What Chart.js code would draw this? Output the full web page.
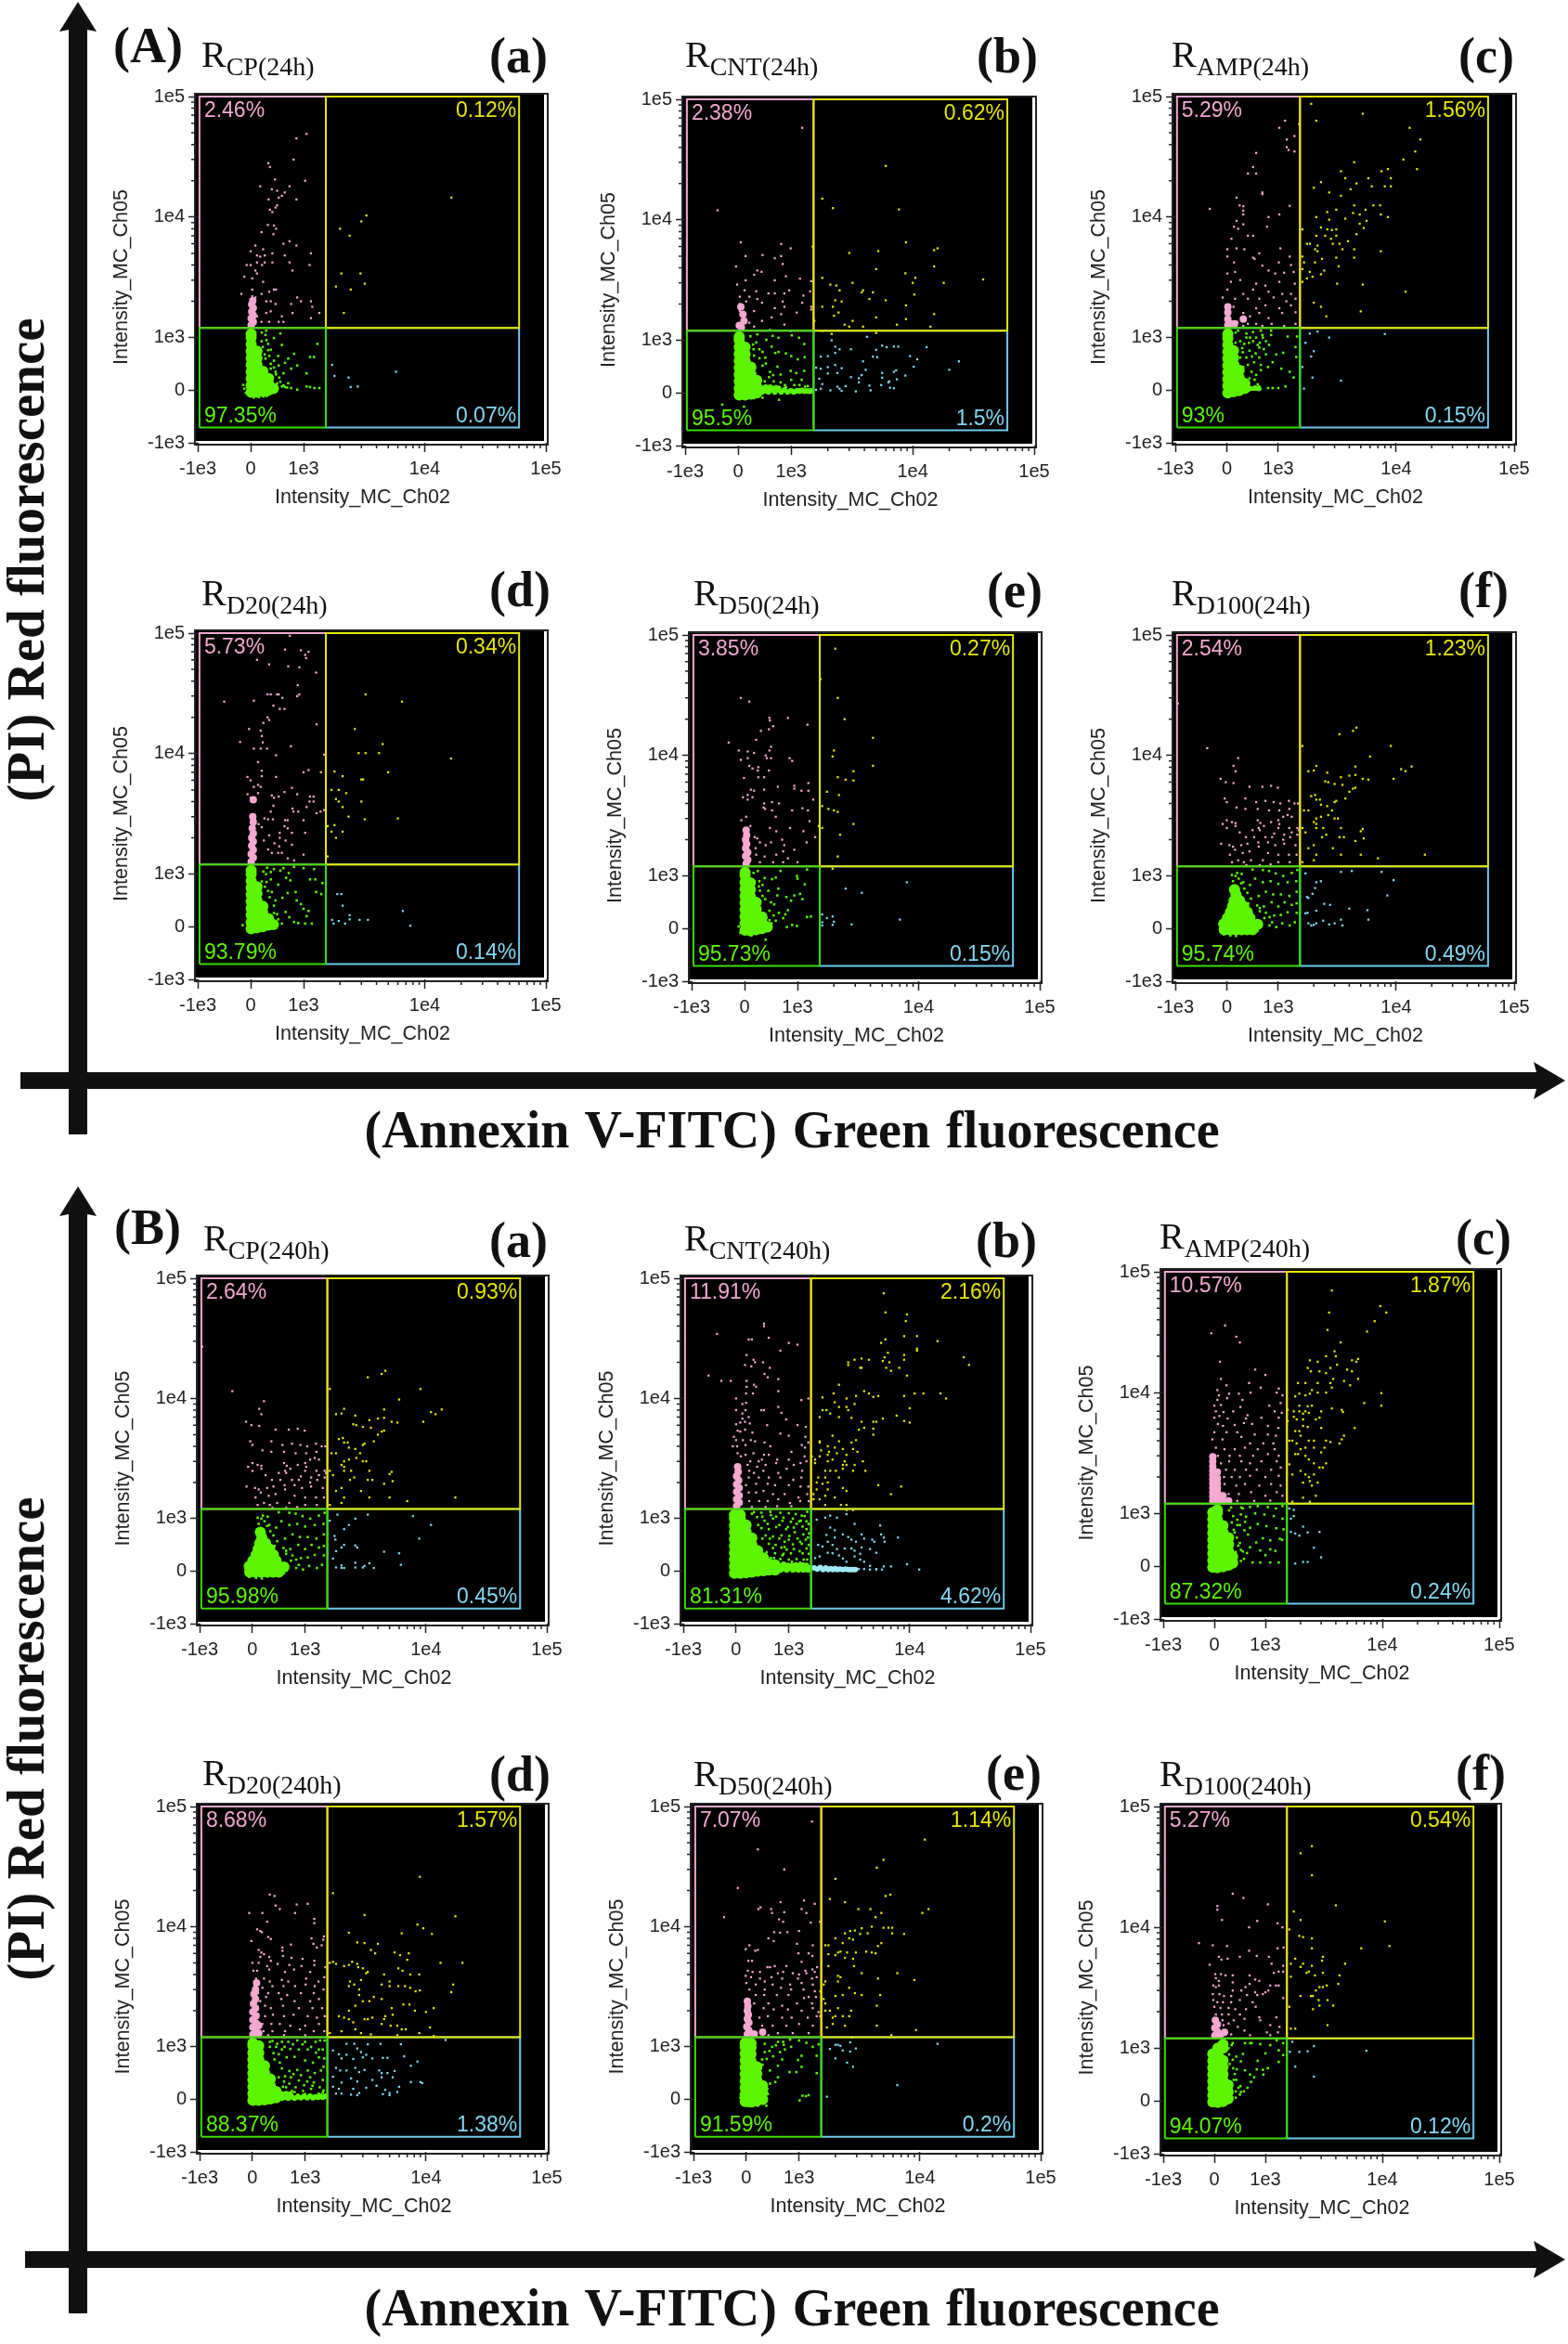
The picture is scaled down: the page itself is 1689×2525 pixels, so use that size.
<!DOCTYPE html>
<html lang="en">
<head>
<meta charset="UTF-8">
<title>Annexin V-FITC / PI flow cytometry panels</title>
<script src="https://cdn.jsdelivr.net/npm/chart.js"></script>
<style>
  html, body { margin: 0; padding: 0; background: #fff; }
  #page { position: relative; width: 1689px; height: 2525px; overflow: hidden; }
  canvas { position: absolute; }
  svg { position: absolute; left: 0; top: 0; pointer-events: none; }
</style>
</head>
<body>
<div id="page"></div>
<script>
// tick labels and gate limits, in intensity units
const tickValues = [-1000, 0, 1000, 10000, 100000];
const tickLabels = ['-1e3', '0', '1e3', '1e4', '1e5'];
const minorValues = [2e3, 3e3, 4e3, 5e3, 6e3, 7e3, 8e3, 9e3, 2e4, 3e4, 4e4, 5e4, 6e4, 7e4, 8e4, 9e4];
const gateX = [-967, 1527, 60100];
const gateY = [-711, 1203, 100000];

// events, x,y pairs. "Core" and "Band" arrays are clump centres
// for the solid clouds, they are drawn with a bigger marker
const cp24Pink = [1060,49000,865,45000,810,30000,335,28000,365,26000,460,20500,1030,20000,180,18000,735,18000,400,17000,500,16500,645,16000,590,15000,530,14500,340,14000,865,14000,500,12500,470,12000,365,11500,410,11000,325,8600,440,8500,480,8000,205,7500,430,7200,735,6300,620,6000,865,5800,90,5800,0,5200,235,5400,265,4800,410,5000,645,4800,1150,5000,120,4800,180,4700,120,4200,265,4200,410,4200,735,4200,1120,4000,-75,4000,0,4000,215,4000,790,3600,90,3600,120,3400,30,3100,-120,3200,235,2900,30,2500,480,2500,440,2500,350,2400,205,2300,-175,2300,30,2200,90,2150,880,2150,950,2000,1150,2000,1180,1800,295,2000,380,2000,470,1900,765,1900,0,1800,60,1700,380,1650,295,1600,790,1600,1350,1600,590,1500,1150,1450,120,1500,205,1350,350,1350,530,1350,620,1350];
const cp24PinkCore = [10,1270,50,1350,10,1440,50,1530,20,1640,50,1760,20,1880,40,2020];
const cp24Yellow = [16600,14500,3300,10300,3000,9200,2000,8000,2400,7000,2050,3400,2950,3400,3200,2800,1850,2650,2450,2500,2150,1600];
const cp24Blue = [1720,480,5800,350,1800,270,2350,240,2450,60,2800,70];
const cp24Green = [1300,880,1130,630,1220,630,820,690,710,600,650,520,880,470,765,410,1060,320,590,860,560,1080,440,990,295,1140,205,930,380,770,265,680,530,470,470,350,380,410,620,320,710,130,880,10,1060,70,1230,40,1350,40,590,70,500,130,295,-110,90,-110,-90,-50,765,40,1130,60,650,60,440,560,330,880,280,1050,520,650,210,1100,300,950,230,820,330,760,280,600,350,650,380,500,440,430,480,300,540,240,560,160,620,90,690,50,240,-120,160,-130,60,-140,-120,30,-140,100,320,-100];
const cp24Core = [10,-40,10,90,10,220,10,350,10,480,10,610,10,740,10,870,10,1000,10,1070,120,-40,120,90,120,220,120,350,120,480,120,610,120,740,230,-20,230,100,230,230,230,360,340,0,340,110,340,220,430,30];
const cp24Band = [];

const cnt24Pink = [1230,58000,-390,12000,50,6500,810,6300,990,5800,460,5100,140,5000,690,4800,810,5000,840,4300,-40,4100,360,3800,440,3700,300,3500,900,3400,1180,3250,1460,3100,690,3150,140,3150,-20,2900,120,2600,1430,2550,340,2550,570,2450,690,2450,870,2450,960,2600,30,2300,210,2300,360,2200,1260,2350,1230,2050,840,2100,30,2000,150,2100,450,2050,870,1900,690,1850,1460,1900,1110,1700,1460,1800,30,1750,120,1650,300,1750,810,1650,630,1550,90,1450,210,1400,450,1450,870,1350,300,1300,990,1200,30,1300,600,1220];
const cnt24PinkCore = [50,1900,90,1650,110,1450,60,1280,20,1330];
const cnt24Yellow = [6000,28000,1800,15000,2200,12500,7700,12200,1500,6000,8800,6500,15000,5600,16000,5800,3000,5300,5200,5500,5000,3900,8700,3600,10500,3300,15000,4100,38000,3200,1800,3300,10000,3000,18000,3000,2350,2850,2100,2900,2500,2600,3200,3000,3900,2600,3800,2500,4700,2500,10300,2400,4400,2200,6000,2150,2300,2150,2600,2100,8800,1950,1800,1900,2200,1900,2450,1700,2250,1600,5000,1550,8800,1500,15000,1650,1550,1450,3200,1450,2750,1350,3000,1300,3900,1300,14000,1300,7400,1350,1800,1200,5000,1150,2150,1130];
const cnt24Blue = [2150,1000,2300,880,2500,830,3100,830,4200,1070,5600,900,6100,870,7000,880,7600,880,5000,820,5100,680,4700,690,3900,600,2300,760,2000,700,1750,690,9500,700,10900,640,13000,870,24000,600,20000,440,10200,500,8700,330,7400,260,6400,220,5600,380,5600,290,7000,400,7300,430,4100,440,3800,340,3600,280,2600,470,2300,530,2000,490,1750,460,1600,480,1700,270,1800,170,2100,50,1750,80,1600,60,2500,80,2600,40,3400,30,3600,200,4400,140,4500,50,5500,150,6300,200,6500,100,7000,90,2400,120,2000,370,2400,380,3100,300,2800,130];
const cnt24Green = [-300,-220,110,-260,300,-100,770,-130,460,-90,1280,930,1160,1050,1010,1100,1000,700,1130,640,1290,680,900,750,760,1050,760,780,650,1090,630,880,530,1010,510,670,400,830,360,1120,280,920,740,500,800,350,1000,250,1100,380,1280,420,1220,250,1370,130,1430,60,1170,70,1020,60,880,150,600,400,500,220,460,520,300,710,260,530,670,220,570,80,700,760,990,420,230,1080,290,830,340,960,400,660,460,780,520,560,580,300,660,340,720,130,800,200,900,110,1060,150,1170,150,1300,120];
const cnt24Core = [20,-40,20,90,20,220,20,350,20,480,20,610,20,740,20,870,20,1000,20,1070,130,-40,130,90,130,220,130,350,130,480,130,610,130,740,130,870,240,-20,240,100,240,230,240,360,240,490,350,0,350,110,350,240];
const cnt24Band = [450,20,510,40,570,20,630,60,690,20,750,60,810,20,870,60,930,20,990,40,1050,20,1110,40,1170,30,1230,50,1290,30,1350,40,1410,30,1470,40,460,90,520,110,600,110,680,90,760,90];

const amp24Pink = [-330,11700,1140,63000,1020,55000,1500,59000,1180,44000,1370,47000,1180,38000,1220,36000,1370,35000,570,34000,510,26000,410,23000,570,23000,690,16000,690,15500,190,14500,250,12500,320,12300,320,11300,320,10500,1250,12400,810,10000,1020,10500,190,9300,320,8700,140,8300,220,8000,780,8300,410,7000,510,7000,90,6600,1040,5500,10,5400,190,5500,340,5400,10,4700,630,5000,510,4600,690,3950,1250,4700,1010,4200,1280,4000,140,4200,540,4500,810,3600,940,3400,1120,3450,1350,3500,160,3500,10,3400,80,2900,260,3000,1020,2900,570,2800,750,2700,1380,2800,10,2500,320,2300,510,2500,810,2400,1080,2300,1280,2300,-80,2150,160,2100,410,2100,630,2100,910,2150,1170,2000,1400,2100,130,1800,570,1750,750,1850,1020,1750,1280,1850,320,1600,450,1500,630,1600,810,1450,1080,1600,1400,1620,200,1350,410,1300,570,1300,870,1300,1120,1250,1400,1300,320,1250,690,1250];
const amp24PinkCore = [20,1270,20,1420,20,1620,20,1800,70,1300,150,1300,320,1420];
const amp24Yellow = [1900,87000,5200,72000,2100,63000,13000,55000,16000,44000,14500,35000,11500,30000,4400,28500,15000,25000,8500,25000,7500,24000,3400,24000,9000,21000,5800,21000,3700,21000,2300,19500,4600,19000,6200,18000,8000,18000,9000,18000,4100,17000,2000,17500,2700,16000,3400,15000,4400,12500,7300,12500,6400,12500,5500,11500,4300,10800,7400,10500,8500,10000,3100,11500,2600,11000,2100,10000,2700,9500,3700,9700,4900,10500,5600,9300,4900,8800,5300,8100,2300,8200,2850,7800,3100,7900,2600,7900,1600,7900,2500,7000,3100,7000,2100,7000,4600,7200,2800,6600,3300,6000,3900,6300,2900,6000,2150,5800,1750,6000,1850,6000,2050,5400,3500,5400,4400,5400,7400,5200,2150,5200,1600,4700,3100,4600,4400,4600,2350,4500,2050,4200,1650,4200,3250,3900,2450,3600,1850,3500,1600,3700,2300,3350,1950,3200,1750,3100,3150,2800,5200,2750,1600,2900,12000,2400,2000,1950,2300,1800,5000,1650,2550,1500];
const amp24Blue = [1850,1080,8000,1070,2700,1000,2150,1120,1700,900,2000,740,1900,640,1600,440,1950,240,3400,180,1650,30];
const amp24Green = [1400,820,1200,1020,1440,1020,1420,630,1100,710,960,680,1060,410,1250,350,1350,240,1150,70,1000,40,890,40,800,40,630,70,510,10,890,530,800,440,660,380,570,290,860,1050,760,930,630,810,510,930,440,750,530,530,380,620,320,440,260,930,380,1080,660,1140,860,1140,160,710,220,500,440,225,350,165,690,1050,510,1110,220,1140,630,620,760,680,560,700,430,900,700,1000,300,800,570,1000,260,620,310,720,340,880,450,1000,490,640,410,480,480,350,540,200,600,110,660,480,720,780,640,900,820,860,600,860,380,1000,170,1100,170,900];
const amp24Core = [20,-50,20,80,20,210,20,340,20,470,20,600,20,730,20,860,20,990,20,1070,130,-30,130,100,130,230,130,360,130,490,130,620,130,750,240,-10,240,110,240,240,240,380,350,30,350,130];
const amp24Band = [450,30,550,40,620,30];

const d2024Pink = [740,95000,650,73000,950,72000,1100,70000,1030,66000,1050,62000,120,60000,350,55000,710,53000,920,52000,1270,47000,890,37000,320,31000,380,31000,500,31000,530,31000,600,29000,920,31000,880,30000,-500,27000,60,27500,430,25000,550,23500,640,23500,320,20000,350,19000,240,18000,1280,17500,-30,16000,190,15500,210,14000,-200,12500,230,12400,60,11000,190,11000,310,11000,760,11500,480,9700,1480,9800,140,8500,1100,7300,1000,7000,1390,7000,210,7200,210,6500,480,6400,-60,6400,0,6000,60,5300,140,5500,190,5300,780,5200,640,4800,880,4600,-60,4600,0,4300,140,4700,400,4500,440,4300,530,4400,1130,4400,1210,4400,1210,4000,1120,4000,1060,3600,790,3500,810,3300,900,3300,1280,3200,1380,3300,1480,3400,430,3700,380,3300,260,2900,330,2850,420,2850,650,2800,700,2800,1000,2800,150,2600,210,2450,640,2500,700,2400,780,2200,1030,2200,550,2200,350,2100,250,1900,550,2000,450,1800,540,1700,660,1900,780,1750,330,1600,400,1500,520,1500,590,1500,700,1350,1000,1450,820,1300];
const d2024PinkCore = [10,1270,50,1370,10,1470,50,1590,20,1720,50,1860,20,2000,50,2180,30,2400,50,2700,40,3000,50,4150];
const d2024Yellow = [3250,31000,6500,27000,2650,16000,4500,12000,2850,10100,3250,10100,4200,10100,16500,9100,1800,7100,2100,6500,5000,7000,3000,6100,3100,6100,1700,5000,1950,5000,2250,4700,1850,4200,1950,4000,3000,4000,2100,3600,6000,2900,2350,3000,3200,2850,1580,2500,1800,2550,2100,2250,1850,2000,1700,2250,1580,1400];
const d2024Blue = [1900,620,2050,620,2100,400,2400,220,1720,130,1950,110,1770,60,2200,60,2400,140,2900,130,3400,130,6600,300,7600,20];
const d2024Green = [1430,830,1250,900,1400,620,1270,660,1130,900,1220,1100,1000,1120,820,1150,620,1120,380,900,290,1000,440,1100,560,1070,720,1020,750,880,670,930,520,800,400,660,600,550,700,640,850,660,870,500,950,430,1000,340,1100,300,1060,200,1170,60,1030,60,900,70,820,90,730,180,660,280,500,240,440,400,-150,30,210,860,270,760,330,680,240,1050,310,1130,360,560,440,260,520,140,590,60,470,500,300,850,380,1040];
const d2024Core = [10,-40,10,90,10,220,10,350,10,480,10,610,10,740,10,870,10,1000,10,1070,120,-20,120,110,120,240,120,370,120,500,120,630,120,760,230,0,230,130,230,260,230,390,340,30,340,150,430,40];
const d2024Band = [];

const d5024Pink = [-70,30000,90,28000,470,20500,480,19500,540,17500,460,16500,820,20500,1210,18000,310,16000,-300,12800,220,13500,500,11800,470,11000,-110,11000,60,10800,180,10500,400,10000,420,9500,500,9500,-70,9200,60,9500,850,9500,900,9000,90,8200,150,7800,260,8000,250,7500,460,7500,-10,6500,260,6600,370,6600,1230,5900,630,5500,940,5600,940,5300,1080,5100,1230,5100,120,5200,180,5100,370,5200,60,4700,1350,4300,-30,4500,60,4300,150,4500,370,4000,520,4100,650,4000,360,3700,390,3600,520,3500,900,3500,1100,3650,1220,3500,30,3100,590,3100,1260,2850,-60,2900,110,2600,480,2500,860,2500,1120,2350,600,2350,1400,2100,190,2100,240,2050,290,1900,500,1900,710,2000,750,1800,1190,1900,210,1700,400,1800,730,1600,940,1650,220,1500,380,1450,600,1500,820,1400,1000,1300,290,1300,540,1300,730,1300];
const d5024PinkCore = [30,1260,60,1360,20,1460,60,1570,20,1700,40,1840,20,2000,40,2180,30,2400];
const d5024Yellow = [2050,77000,1550,43000,2150,30000,2450,20000,4200,14000,2000,11000,1950,9800,4200,8200,2900,7400,2150,6600,2500,6300,2900,6200,1750,5000,2200,4700,1600,3800,1800,3600,2000,3500,2150,3400,2900,2700,1500,2600,1600,2500,2250,2200,2150,1450,1950,1150];
const d5024Blue = [2500,760,3400,680,8000,880,1600,270,1750,200,1600,120,1950,230,2000,130,1950,70,1600,60,2800,80,7000,170];
const d5024Green = [1200,1130,1150,840,1000,950,990,1000,1050,660,1100,560,880,530,940,630,820,350,770,270,1200,220,1290,230,990,50,900,70,800,30,730,200,650,300,790,600,640,760,590,970,520,940,680,1100,620,630,560,460,500,500,410,200,510,100,470,160,390,270,340,620,380,960,270,800,250,1100,170,1060,190,900,400,-210,130,-130,290,720,340,830,280,900,390,560,450,720,470,340,550,250,590,150,-110,40,-80,-80,100,-120,200,-100,300,-80];
const d5024Core = [10,-30,10,100,10,230,10,360,10,490,10,620,10,750,10,880,10,1010,10,1070,110,-40,110,90,110,220,110,350,110,480,110,610,110,740,110,870,220,-20,220,110,220,240,220,370,220,500,330,0,330,110,330,220,430,30];
const d5024Band = [];

const d10024Pink = [-950,27000,-380,11500,220,9500,130,8200,170,7400,-120,6400,-20,6000,130,5900,440,5500,690,5500,860,5600,990,5400,-40,4400,0,4100,360,4400,570,4100,750,4200,910,4100,1040,4000,1230,4200,1370,4000,1470,4000,190,3700,360,3600,600,3600,820,3500,1020,3500,1240,3600,1200,3200,1300,3100,1100,3100,600,2900,650,2750,1000,2900,860,2800,0,2900,-80,2700,100,2800,170,2750,1020,2700,0,2500,170,2600,620,2500,720,2600,1000,2500,1240,2500,1450,2500,250,2300,500,2400,640,2400,920,2250,1120,2200,1300,2300,1490,2400,1450,2200,370,2100,530,2100,750,2100,880,2100,1100,2000,1260,2100,-110,1850,50,1800,120,1750,280,1800,400,1850,610,1900,800,1900,940,1800,1120,1850,1400,1800,60,1500,160,1650,310,1550,440,1600,620,1750,800,1550,1000,1500,1230,1500,1430,1500,100,1300,220,1350,330,1300,470,1350,700,1350,850,1250,1000,1300,1250,1300,380,1230,640,1230];
const d10024PinkCore = [];
const d10024Yellow = [1600,12000,4300,16000,3300,15000,4600,17000,9000,12000,6000,9800,4500,8100,2100,8200,1800,7400,2000,7500,2600,7200,3400,6600,2500,6100,2650,6000,3000,5800,3500,5700,4000,6800,4500,6900,5200,6400,5800,6300,9500,6400,11000,7700,12000,7400,13500,8100,4300,5300,4500,5400,4000,5000,3700,4400,3000,4100,3100,4200,2600,3800,1900,4600,2050,4700,2100,4300,2250,4300,2300,3900,1650,3500,1800,3500,2100,3000,2000,2800,2100,2700,2300,3100,2650,3200,2850,3500,3000,3000,3200,3000,3400,2500,2400,2500,2100,2500,1600,2500,1700,2300,2550,2200,2350,2100,3300,2100,3600,2100,5200,2450,5000,2350,4500,1950,5300,2050,2900,1700,2000,1800,1800,1700,3400,1500,2100,1500,2000,1350,5000,1500,7000,1400,17500,1500,1600,1300];
const d10024Blue = [1700,1050,2300,900,2100,880,2050,770,1950,660,1750,600,1800,580,2450,470,2750,450,1700,290,1770,300,2100,340,4000,380,5700,350,2400,150,2700,80,3000,100,3400,170,1800,100,1900,60,2000,70,2100,100,3500,60,5800,170,7500,1080,9500,920,8400,630,3400,1080,4200,1100];
const d10024Green = [1450,1120,1300,1060,1100,1000,950,1050,820,1100,700,1120,500,1130,1420,900,1200,880,1000,850,850,900,700,880,550,950,450,830,320,880,200,1060,1430,700,1240,620,1050,650,900,650,760,700,620,620,1430,480,1430,300,1300,450,1130,500,1000,420,870,500,720,420,1200,310,1050,260,920,250,1380,120,1250,60,1080,100,960,30,830,60,730,200,640,330,540,70,420,480,120,900,170,1000,100,1020,230,950,290,1040,130,800,200,780,280,860,340,760,400,680,470,570,590,440,640,390,760,300,830,220,880,120,-110,90,-120,0,-60,-110,70,-130,180,-140,300,-100,450,-80,600,-40];
const d10024Core = [-50,-20,60,-20,170,-20,280,-20,390,-20,500,-20,-60,90,50,90,160,90,270,90,380,90,490,90,600,80,10,200,120,200,230,200,340,200,450,200,70,310,180,310,290,310,400,310,110,420,220,420,330,420,140,530,250,530,180,640,150,740];
const d10024Band = [];

// the 240 h control shows the same cloud as the 24 h D100 panel
const cp240Pink = d10024Pink;
const cp240PinkCore = [];
const cp240Yellow = d10024Yellow;
const cp240Blue = [1850,1080,3300,1080,2600,1000,7800,1050,11000,880,8800,620,1600,960,2300,880,2100,800,1750,670,2100,500,2000,450,1780,600,1800,380,2600,490,2700,450,4500,370,6000,340,1700,240,1800,70,2000,110,2000,60,2100,60,2600,70,2600,160,3000,70,3100,100,3400,150,3700,60,6200,120];
const cp240Green = d10024Green;
const cp240Core = d10024Core;
const cp240Band = [];

const cnt240Pink = [-520,15500,-280,14000,-100,14000,-360,34500,240,31000,300,31000,530,40000,530,42000,620,32000,1000,29000,1180,28000,840,25000,200,23000,330,21000,360,20000,510,20000,170,19000,290,18500,540,16000,640,18000,600,15000,800,14500,200,14000,340,13000,380,12500,200,12500,800,11500,320,11000,190,11000,1450,10000,0,10000,1270,9700,120,9000,190,9200,800,8500,0,8000,180,8000,480,8000,530,8000,860,7600,120,7500,240,7000,120,6800,590,6000,950,6700,1180,6000,1380,5800,0,6100,80,6300,170,6400,260,6200,30,5400,80,5300,170,5500,310,5200,840,5100,1000,4900,1370,4800,-40,4800,0,4500,130,4500,280,4500,360,4400,-60,4000,20,4000,180,4100,540,4300,650,4000,1280,4100,1450,4300,30,3500,180,3400,330,3500,530,3400,620,3400,1050,3600,1360,3900,1400,3000,90,3300,270,3000,430,3000,490,3100,780,3100,1000,3100,1350,3300,220,2800,400,2700,560,2800,760,2900,1100,2800,1250,2900,250,2500,340,2400,520,2500,800,2400,960,2600,1290,2500,240,2200,430,2200,620,2200,840,2200,1090,2100,1270,2200,190,1900,380,1950,600,1950,740,1900,1000,1900,1250,1850,1450,1850,240,1650,380,1650,520,1700,700,1600,920,1600,1200,1500,1420,1600,250,1400,440,1400,600,1400,800,1450,1020,1350,1240,1400,1460,1400,300,1250,560,1250,780,1270,1050,1270];
const cnt240PinkCore = [10,1270,60,1360,10,1450,60,1560,10,1670,60,1800,10,1930,50,2080,10,2250,40,2450,30,2700];
const cnt240Yellow = [6100,75000,6300,52000,9500,50000,9300,44000,9000,33000,11500,33000,17000,30000,6300,31000,5800,29000,11500,26000,11500,25000,28000,22000,31000,19000,6600,24000,6200,22000,9000,23000,9000,21000,3500,21000,4000,21500,4600,21000,3100,20000,3100,19000,3900,18000,4000,18000,6800,20000,6000,20500,6400,18000,8200,18000,7000,17000,9500,15500,11000,11000,13000,11000,2600,13000,4200,11500,4600,11000,5000,10300,3600,10500,3000,10000,2350,11000,1900,10200,2400,9300,5500,10500,9000,10500,7800,7200,10000,8300,10000,6300,9000,6500,18000,11000,20000,10000,6000,6800,5300,6400,5000,6400,4000,6400,3300,6900,2600,7000,3100,8000,3000,8500,3500,9000,2600,8500,1900,8000,2050,8000,2200,7500,1800,7000,5000,5000,5000,5600,4200,5700,3800,5500,3600,4500,3300,4300,2600,4400,2300,4900,1800,4400,1800,4300,2100,4000,2150,3600,2100,3400,1850,3700,2400,3900,2500,3500,2800,3800,3000,3400,3400,3800,3700,3600,2900,3000,2800,2800,2300,3100,2100,3000,1800,3300,1650,3100,1550,3300,1650,2900,2000,2500,2200,2500,2450,2500,2800,2600,3000,2800,3400,2500,3500,2800,4100,3000,4300,2500,2600,2200,2000,2200,1750,2200,1700,2000,1900,1950,2100,2000,2100,1750,2000,1550,1700,1750,1600,1600,1600,1450,1800,1450,2000,1300,2400,1500,2800,1800,3000,1700,2700,1300,3000,1300,3000,1180,3400,1180,5500,1900,7000,1600,8500,1850];
const cnt240Blue = [1700,980,2000,1020,2200,1060,2500,1020,3000,1090,5700,870,3500,900,2200,830,2400,780,2800,700,2050,690,2400,640,3100,650,3300,600,3600,560,4000,700,4200,620,4900,600,5100,560,5800,700,6100,640,6200,560,8000,640,1750,500,1900,470,2100,560,2300,500,2500,420,2900,430,3300,430,3500,390,3900,330,4000,450,4700,420,5300,350,1650,250,1800,280,2100,350,2300,340,2600,300,2800,240,3000,180,3500,280,3900,220,4200,180,4700,100,5300,40,5900,30,6100,90,7000,90,9500,130,12000,30,1600,60,1900,60,2200,30,2500,60,2800,30,3300,40,3800,40,4200,40,4700,30,5300,30];
const cnt240BlueCore = [1620,60,1720,40,1820,70,1920,30,2020,60,2120,30,2220,50,2320,30,2420,50,2520,30,2650,40,2800,30,2950,40,3100,30,3250,30,3400,30,3550,30];
const cnt240Green = [1420,1140,1280,1060,1140,1090,1000,1110,840,1120,650,1140,480,1120,340,1130,1400,950,1220,950,1040,940,880,960,700,1000,540,960,400,1030,300,1100,1400,800,1300,850,1100,830,950,800,760,840,620,800,1440,640,1320,700,1180,620,1010,670,860,680,700,660,560,680,1280,520,1080,510,920,560,750,500,620,520,1400,430,1230,380,1040,340,900,330,740,340,580,360,1330,220,1160,230,1000,220,840,230,660,250,-100,-30,1470,90,420,880,480,820,500,1040,600,900,660,1070,760,1040,820,880,900,1020,980,840,1080,1000,1160,900,1260,960,1350,1050,1460,900,1470,720,1460,500,1380,600,1240,560,1120,740,1000,600,920,460,820,620,700,440,640,620,500,620,1300,340,1460,330,1420,220,1100,420,960,410,860,450,600,180,720,250,880,300,1060,180,1240,160];
const cnt240Core = [-30,-40,-30,90,-30,220,-30,350,-30,480,-30,610,-30,740,-30,870,-30,1000,-30,1070,80,-40,80,90,80,220,80,350,80,480,80,610,80,740,80,870,80,1000,80,1070,190,-30,190,100,190,230,190,360,190,490,190,620,190,750,190,880,300,-20,300,110,300,240,300,370,300,500,300,630,410,0,410,130,410,260,410,390,520,10,520,130,520,250,630,20,630,130,740,20,740,120];
const cnt240Band = [840,20,900,50,960,20,1020,60,1080,20,1140,50,1200,20,1260,50,1320,20,1380,50,1440,20,1480,60,820,100,900,130,980,110,1060,110,1140,120,1220,110,1300,120,1400,110];

const amp240Pink = [-60,31000,210,36000,430,29000,500,26000,110,18000,800,15500,1000,14000,130,13000,240,11500,680,12000,910,11000,1300,10800,60,10500,90,9500,290,9800,480,9800,710,10000,1400,9500,1250,10000,60,8700,250,9000,550,8700,0,7800,130,7900,510,7600,1080,7800,1350,8200,30,7000,180,6900,370,7000,650,6500,1200,7000,1380,6800,0,6200,100,6400,260,6100,620,6100,920,6200,1300,6200,70,5500,170,5300,400,5400,580,5600,740,5500,1050,5300,1290,5100,0,4700,240,4700,450,4700,790,4500,1050,4500,1230,4400,-40,4100,160,4100,530,4300,700,3800,960,3800,1170,3800,30,3500,200,3400,400,3400,600,3500,850,3400,1200,3400,70,3000,300,3000,500,3000,760,3000,1050,3100,1300,3000,130,2600,290,2700,530,2700,700,2600,920,2700,1250,2700,230,2300,400,2300,620,2300,830,2300,1120,2300,1350,2400,190,2000,340,2000,500,2000,700,2050,1000,2000,1300,2050,-60,1950,200,1750,430,1700,600,1750,880,1700,1120,1750,1350,1700,280,1450,480,1450,720,1500,1000,1400,1250,1500,1400,1400,450,1270,780,1270,1100,1280];
const amp240PinkCore = [-30,1270,-30,1380,-30,1500,-30,1630,-30,1770,-30,1920,-30,2080,-30,2250,-30,2450,-30,2700,-30,2950,60,1270,60,1380,60,1500,60,1630,60,1770,60,1950,60,2200,170,1270,170,1400,280,1270];
const amp240Yellow = [3700,70000,3500,46000,9600,52000,10800,46000,8600,39000,3400,33000,7400,32000,4400,26000,3900,22000,4000,20000,3300,20000,2800,18000,2400,18500,4100,17000,6000,18000,6200,19000,5500,18500,3600,16000,2450,15000,2300,16000,2900,15000,3300,14500,5000,15500,5500,15000,3600,12000,2800,12000,3700,11000,4700,12500,3800,13000,6200,13000,5300,11500,1900,12000,2200,12000,1950,9800,2400,9800,2800,10000,3300,10000,9800,9900,2500,10500,2200,9500,1800,9300,7000,8200,9800,7800,1750,7000,1950,7800,2300,7700,2500,7800,1550,7200,1950,7000,2200,7000,3000,7000,3700,7400,4500,7200,4600,6900,2100,6700,2350,6800,2700,6000,2900,6200,1750,6300,1850,6000,2100,6000,1550,5800,2100,5300,2300,5200,3000,5100,5800,5100,4700,4400,4500,4100,4300,3800,1800,4800,1950,4800,2000,4400,2350,4000,2600,4000,1700,4000,1850,3800,1600,4000,2000,3400,2200,3500,2600,3500,3000,3200,3200,3500,3300,4000,3600,3900,1900,3100,1800,3100,2200,3000,2350,2800,2600,2600,3100,2400,3300,2600,2900,2400,1600,2550,2000,2250,1700,2100,2200,2100,2350,2000,2600,2100,2100,1800,2400,1850,2800,1800,2500,1700,2100,1350,2700,1400,2400,1250,1700,1250];
const amp240Blue = [1600,1100,1750,1070,1750,950,1650,900,2100,750,2300,640,1800,620,1650,650,1950,580,2900,650,2600,350,3000,170,1800,50,2100,80,2300,80];
const amp240Green = [1400,1150,1230,1100,1050,1130,850,1150,700,1130,560,1100,1400,900,1180,950,980,980,800,1000,620,940,530,1120,1430,700,1240,720,1020,760,850,800,700,730,600,840,520,980,450,880,1390,500,1330,520,1100,490,950,530,820,450,660,600,590,680,500,780,400,640,1220,290,1100,320,1000,210,900,300,700,360,640,250,580,140,1300,70,1100,70,900,70,750,70,560,280,470,390,420,270,380,150,-50,1000,-70,800,-70,620,330,1120,370,950,340,830,380,690,450,780,440,540,500,440,520,310,430,130,520,100,290,1060];
const amp240Core = [-30,-20,-30,110,-30,240,-30,370,-30,500,-30,630,-30,760,-30,890,-30,1020,60,-30,60,100,60,230,60,360,60,490,60,620,60,750,60,880,60,1010,60,1070,170,-10,170,120,170,250,170,380,170,510,170,640,170,770,280,20,280,150,280,280,280,410,280,540,360,60,360,180];
const amp240Band = [];

const d20240Pink = [330,18500,420,18000,440,15000,520,14000,840,15300,1050,15500,810,13000,-60,13000,190,13000,280,11000,1190,11600,1190,10700,90,9500,150,9200,180,9000,300,8200,350,7900,1130,8000,1410,7800,1430,8300,-20,7600,1170,7200,1250,6700,1370,7000,570,6700,730,7100,120,6400,170,6100,570,6300,150,5600,220,5900,320,5600,350,5200,580,5700,740,5500,950,5400,1190,5200,0,5000,120,5000,280,4700,480,4900,700,4800,930,4700,1190,4800,1470,4600,20,4300,90,4300,320,4400,620,4200,790,4400,1100,4200,1440,3800,70,3700,220,3700,330,3500,560,3600,680,3500,1020,3700,1290,3500,40,3200,190,3100,380,3200,590,3200,810,3200,1010,3300,1200,3200,1420,3000,110,2800,300,2800,500,2800,660,2700,920,2800,1180,2800,150,2400,260,2600,550,2500,800,2400,1100,2400,1300,2500,240,2200,350,2100,580,2200,880,2100,1150,2100,1380,2100,240,1800,390,1850,600,1800,780,1850,1050,1800,1250,1750,1450,1800,190,1550,360,1550,520,1550,720,1500,1000,1500,1300,1550,210,1350,380,1350,620,1350,900,1400,1180,1350,1440,1350,300,1250,600,1250,1000,1250];
const d20240PinkCore = [10,1270,70,1360,10,1460,70,1570,10,1680,70,1810,10,1950,60,2100,20,2280,60,2500,30,2750,60,3000,80,3400,120,1300,120,1500];
const d20240Yellow = [8900,26000,1700,19000,17500,12200,3100,12500,8500,10400,9500,9700,11200,8700,2300,8900,6300,8800,2700,7400,3100,7300,3500,6400,3800,6000,4000,7200,5500,6100,6100,5800,7200,6000,7000,5300,1600,5000,1700,5100,1800,4900,2100,4700,2300,4800,2450,5100,2700,4900,2750,4600,3000,4500,3200,4100,3300,4200,4500,4000,5900,4500,6400,4300,7400,4000,8800,4000,13200,5000,20000,5000,2900,3600,2350,3500,2300,3200,2550,3300,2800,3000,4300,3300,5000,3200,5000,3500,5900,3200,6700,3200,7400,3100,8200,2900,8900,2950,16800,3300,16200,2850,2800,2700,3000,2400,3400,2400,3700,2600,4300,2500,5200,2100,6500,2250,7300,2250,8100,2000,10000,1950,11600,2100,2600,2200,2300,2000,1900,1800,2100,1750,2300,1700,2500,1600,3100,1700,3300,1700,3600,1750,4500,1700,4600,1800,5300,1850,4300,1550,5100,1500,5800,1500,6300,1400,6800,1400,10800,1450,2600,1400,2000,1350,1600,1300,2900,1300,3500,1270,5800,1250,8800,1300,11600,1230];
const d20240Blue = [14500,1140,2200,1060,2550,1060,3300,1050,4200,1060,6200,1050,2700,970,2900,900,3200,850,1700,930,1900,860,2200,850,2000,780,2500,770,3000,800,3600,780,4400,790,4800,790,6600,820,7500,640,8500,720,1800,600,1950,550,2200,550,2600,600,2800,520,3100,560,4100,550,4300,500,4800,500,5500,540,1700,430,2000,320,2400,400,2700,340,3600,370,4300,420,5300,420,6000,240,7500,330,9000,330,9300,310,1700,240,1900,200,2500,200,2800,120,3200,220,3900,260,4600,180,5000,120,5800,140,2000,110,1800,110,2400,90,2700,80,4400,100,5000,80];
const d20240Green = [1450,1130,1330,1130,1220,1100,1000,1100,850,1130,680,1100,560,1100,450,1000,330,1100,1400,950,1230,890,1050,950,880,950,720,960,560,950,400,880,1300,800,1160,700,1000,740,800,810,650,800,520,700,1350,550,1200,500,1050,550,850,560,700,540,560,590,1400,370,1180,320,1040,340,880,360,730,420,600,340,1420,170,1290,110,1120,200,960,160,860,90,750,160,640,230,1450,50,1280,30,330,1000,380,1120,420,760,470,1060,500,860,610,1000,770,1050,950,1050,1120,1000,1300,950,1440,780,1420,620,1100,420,920,460,780,480,620,440,500,420,580,240,700,300,820,230,980,270,1150,260,1320,230,1400,130,1000,100,800,140];
const d20240Core = [10,-20,10,110,10,240,10,370,10,500,10,630,10,760,10,890,10,1020,10,1070,120,-20,120,110,120,240,120,370,120,500,120,630,120,760,120,890,120,1020,230,-10,230,120,230,250,230,380,230,510,230,640,340,10,340,130,340,260,340,390,450,30,450,150];
const d20240Band = [560,20,620,40,680,20,740,50,800,20,860,50,920,30,980,60,1040,30,1100,60,1160,30,1220,50,1280,40,1340,60,1400,40,1470,60,560,100,640,110,720,100];

const d50240Pink = [1280,75000,220,44000,720,30000,-160,21000,650,16000,1100,16500,1350,15500,1050,14000,230,14000,270,14500,470,14000,490,13000,720,13200,1150,13000,-420,12000,620,11500,700,11000,1250,10800,1490,11000,420,8000,530,9000,640,8900,780,9000,1000,9200,520,7600,960,7200,1300,7000,-10,6500,60,7000,170,6300,220,6400,990,6000,1200,6000,1290,5700,1050,5100,40,5200,110,5200,400,4600,450,4600,540,4700,760,4700,1130,4300,1290,4400,1410,4600,30,4300,120,4200,260,4200,600,4100,700,4200,880,4100,1000,4000,1150,4100,1350,4200,-10,3900,90,3800,260,3700,480,3800,680,3700,980,3700,1280,3700,1400,3800,0,3400,180,3300,350,3500,500,3300,830,3300,1050,3400,1300,3300,60,3000,350,3000,660,3100,850,3000,1090,3000,1350,2900,1200,2600,180,2700,340,2700,580,2700,800,2700,1100,2550,1380,2600,150,2300,420,2300,680,2200,960,2300,1280,2300,330,2100,520,2050,790,2050,1050,2000,1300,2100,1450,1950,250,1750,410,1800,680,1750,860,1750,1180,1750,1400,1800,300,1500,500,1500,760,1500,1000,1550,1300,1500,140,1250,420,1250,600,1300,880,1300,1200,1300];
const d50240PinkCore = [20,1270,50,1370,10,1470,50,1590,20,1710,40,1850,20,2000,30,2180,20,2400,150,1280,310,1330];
const d50240Yellow = [11000,53000,5000,36000,4400,31000,2000,25000,5200,18000,5700,18500,1800,17000,2400,16000,3100,14000,3900,14000,4800,13000,10500,13000,11800,14000,4300,12000,7400,8700,5000,9800,5500,9800,5900,9800,5900,8800,4000,10000,3300,9700,2900,9300,2650,9200,2400,8800,3700,8800,3200,8700,2800,7800,2600,8000,2000,8000,2300,7300,1650,7000,1750,7000,4500,6900,4800,7300,3600,6200,4000,6100,4300,6000,2950,6100,2500,6100,2200,6200,2100,6100,1750,5900,2000,5800,2400,5500,2800,5400,1750,4700,2850,4700,3300,4100,4500,3700,6500,4100,9000,3600,2100,3900,2200,3800,2100,3500,1650,3500,1600,3300,2600,3100,2900,2800,3300,2700,1500,2900,4700,2700,1600,2500,1650,2300,2000,2650,2300,2700,4400,2200,1800,2000,2100,2100,2700,2000,1650,2000,1500,1800,1900,1750,2000,1800,2300,1800,2600,1800,2400,1500,1900,1550,1700,1450,4400,1500,9300,1380,5800,1250,2750,1200];
const d50240Blue = [2000,1040,2100,1040,2200,1020,2650,1090,1800,960,2300,930,2650,910,14000,1060,2950,970,2000,780,2500,700,2800,620,6500,270,1700,50];
const d50240Green = [1450,1050,1300,1000,1150,1080,1000,1130,830,1150,700,1100,1400,830,1050,830,980,750,850,1000,730,950,600,1100,1400,500,1050,620,950,520,820,520,680,760,600,640,600,420,550,330,450,300,450,550,1140,60,1200,80,1070,70,1010,-20,410,100,380,-120,330,-80,280,600,350,900,490,1000,300,760,160,-100,-100,90,400,200,310,660,390,770,440,920,510,820,560,1030,640,900,710,1040,350,1060,-110,30,-90,-60,220,-120,130,-130,30,-130];
const d50240Core = [-20,-40,-20,90,-20,220,-20,350,-20,480,-20,610,-20,740,-20,870,-20,1000,-20,1070,90,-50,90,80,90,210,90,340,90,470,90,600,90,730,90,860,90,990,90,1070,200,-30,200,100,200,230,200,360,200,490,200,620,310,0,310,130,310,260];
const d50240Band = [];

const d100240Pink = [360,19000,570,17500,1050,15500,60,15000,60,14000,150,11500,680,10000,840,11300,1270,10800,1400,10000,-300,7400,-30,7100,250,7000,680,6400,1270,6700,1430,6800,830,5800,1070,5700,90,5700,140,5400,260,5500,500,5700,1130,5000,1420,4800,-90,4900,1300,4300,1420,4300,20,4100,130,4100,220,4000,360,4000,690,4000,1180,4200,30,3800,90,3600,360,3500,800,3700,880,3600,690,3400,610,3200,-20,3300,30,3200,90,3300,1100,3300,1230,3300,1300,3300,360,3000,530,3000,800,2900,1060,3000,-30,2800,100,2800,190,2700,330,2700,640,2750,840,2750,950,2800,1000,2900,-20,2500,60,2400,170,2400,330,2400,500,2500,750,2400,1420,2600,0,2200,120,2150,280,2150,410,2100,620,2100,810,2200,30,1900,150,1900,280,1900,500,1900,880,1800,1240,1800,160,1700,380,1700,590,1750,900,1700,1100,1550,1320,1500,30,1500,180,1550,280,1600,460,1500,590,1400,1030,1350,1280,1350,330,1300,180,1300,700,1280,1100,1280];
const d100240PinkCore = [10,1270,60,1370,10,1470,60,1570,20,1700,120,1300,200,1350];
const d100240Yellow = [2500,47000,2000,41000,2500,27000,1750,13500,2000,11500,4000,15200,10500,11200,11500,7000,6600,6700,1600,9600,1950,8500,2100,8300,2500,8100,2500,6700,1800,5500,3100,5700,3050,5300,4800,5000,1650,5000,2100,5000,2500,4800,2000,4700,2350,4300,2250,4200,2650,4000,3100,4200,4300,4000,4200,3400,1650,3900,2900,3200,3350,3300,3100,3200,2700,3000,2000,2700,2450,2700,2550,2700,2850,2500,3400,2500,2900,2250,3800,2250,1600,2200,2550,2100,3400,1550,1650,1450,1800,1450];
const d100240Blue = [1700,1130,1620,930,1950,930,2300,940,2600,1040,7300,950,1800,650,2600,460];
const d100240Green = [1420,1100,1250,1160,1100,1060,900,1080,730,1100,600,1100,1420,870,1300,960,1000,900,850,760,700,1100,560,890,1300,740,1050,620,950,590,960,500,830,600,780,450,720,360,700,500,650,250,580,180,600,580,520,750,510,280,500,120,420,60,380,400,440,600,430,840,360,1100,-30,900,-50,700,280,1000,240,1120,340,1060,290,880,360,780,300,700,370,620,400,510,430,400,470,250,520,170,350,70,420,180];
const d100240Core = [-30,-20,-30,110,-30,240,-30,370,-30,500,-30,630,-30,760,-30,890,70,-30,70,100,70,230,70,360,70,490,70,620,70,750,70,880,70,1000,170,-10,170,120,170,250,170,380,170,510,170,640,170,770,170,1000,170,1070,270,40,270,170,270,300];
const d100240Band = [];

// corner percentages: upper left, upper right, lower left, lower right
const pctCp24 = ['2.46%', '0.12%', '97.35%', '0.07%'];
const pctCnt24 = ['2.38%', '0.62%', '95.5%', '1.5%'];
const pctAmp24 = ['5.29%', '1.56%', '93%', '0.15%'];
const pctD2024 = ['5.73%', '0.34%', '93.79%', '0.14%'];
const pctD5024 = ['3.85%', '0.27%', '95.73%', '0.15%'];
const pctD10024 = ['2.54%', '1.23%', '95.74%', '0.49%'];
const pctCp240 = ['2.64%', '0.93%', '95.98%', '0.45%'];
const pctCnt240 = ['11.91%', '2.16%', '81.31%', '4.62%'];
const pctAmp240 = ['10.57%', '1.87%', '87.32%', '0.24%'];
const pctD20240 = ['8.68%', '1.57%', '88.37%', '1.38%'];
const pctD50240 = ['7.07%', '1.14%', '91.59%', '0.2%'];
const pctD100240 = ['5.27%', '0.54%', '94.07%', '0.12%'];

// x of -1e3, x of 1e5, y of 1e5, y of -1e3 in page pixels for each plot
const panelBoxes = [
  [213, 588, 102, 477], [738, 1114, 105, 480], [1266, 1631, 102, 477],
  [213, 588, 680, 1055], [745, 1120, 682, 1057], [1266, 1631, 682, 1057],
  [215, 589, 1375, 1749], [736, 1110, 1375, 1749], [1253, 1615, 1368, 1744],
  [215, 589, 1944, 2318], [747, 1121, 1944, 2318], [1253, 1615, 1944, 2320]
];
const panelSeries = [
  [cp24Pink, cp24PinkCore, cp24Yellow, cp24Blue, [], cp24Green, cp24Core, cp24Band, pctCp24],
  [cnt24Pink, cnt24PinkCore, cnt24Yellow, cnt24Blue, [], cnt24Green, cnt24Core, cnt24Band, pctCnt24],
  [amp24Pink, amp24PinkCore, amp24Yellow, amp24Blue, [], amp24Green, amp24Core, amp24Band, pctAmp24],
  [d2024Pink, d2024PinkCore, d2024Yellow, d2024Blue, [], d2024Green, d2024Core, d2024Band, pctD2024],
  [d5024Pink, d5024PinkCore, d5024Yellow, d5024Blue, [], d5024Green, d5024Core, d5024Band, pctD5024],
  [d10024Pink, d10024PinkCore, d10024Yellow, d10024Blue, [], d10024Green, d10024Core, d10024Band, pctD10024],
  [cp240Pink, cp240PinkCore, cp240Yellow, cp240Blue, [], cp240Green, cp240Core, cp240Band, pctCp240],
  [cnt240Pink, cnt240PinkCore, cnt240Yellow, cnt240Blue, cnt240BlueCore, cnt240Green, cnt240Core, cnt240Band, pctCnt240],
  [amp240Pink, amp240PinkCore, amp240Yellow, amp240Blue, [], amp240Green, amp240Core, amp240Band, pctAmp240],
  [d20240Pink, d20240PinkCore, d20240Yellow, d20240Blue, [], d20240Green, d20240Core, d20240Band, pctD20240],
  [d50240Pink, d50240PinkCore, d50240Yellow, d50240Blue, [], d50240Green, d50240Core, d50240Band, pctD50240],
  [d100240Pink, d100240PinkCore, d100240Yellow, d100240Blue, [], d100240Green, d100240Core, d100240Band, pctD100240]
];

// subscript, panel letter, then R x, R baseline, letter x, letter baseline
const panelTitles = [
  ['CP(24h)', '(a)', 217, 72, 527, 78], ['CNT(24h)', '(b)', 738, 72, 1052, 78], ['AMP(24h)', '(c)', 1262, 72, 1571, 78],
  ['D20(24h)', '(d)', 217, 652, 527, 653], ['D50(24h)', '(e)', 747, 652, 1063, 654], ['D100(24h)', '(f)', 1262, 652, 1571, 654],
  ['CP(240h)', '(a)', 219, 1347, 527, 1354], ['CNT(240h)', '(b)', 737, 1347, 1051, 1354], ['AMP(240h)', '(c)', 1249, 1345, 1568, 1351],
  ['D20(240h)', '(d)', 218, 1923, 527, 1929], ['D50(240h)', '(e)', 747, 1924, 1062, 1928], ['D100(240h)', '(f)', 1249, 1924, 1568, 1928]
];

const pink = '#f4a8d0', yellow = '#e4e800', green = '#5cf400', blue = '#84d8f4';

// the instrument's axis: linear up to 1e3, log above. x and y share it
function biexp(v) {
  if (v <= 1000) return 0.152 + 0.152 * v / 1000;
  return 0.304 + 0.348 * Math.log10(v / 1000);
}

function toPoints(list) {
  const pts = [];
  for (let i = 0; i < list.length; i += 2) pts.push({ x: biexp(list[i]), y: biexp(list[i + 1]) });
  return pts;
}

function cloud(list, color, radius, order) {
  return {
    data: toPoints(list), showLine: false, order: order,
    pointStyle: radius > 2 ? 'circle' : 'rect',
    pointRadius: radius, pointBackgroundColor: color, pointBorderWidth: 0
  };
}

function gate(x1, x2, y1, y2, color, order) {
  return {
    data: toPoints([x1, y1, x1, y2, x2, y2, x2, y1, x1, y1]), showLine: true, order: order, clip: false,
    pointRadius: 0, borderColor: color, borderWidth: 2, tension: 0
  };
}

// plot frame, minor ticks, axis titles and the four percentages
const facsPlugin = {
  id: 'facs',
  beforeDraw(chart, args, opts) {
    const a = chart.chartArea, ctx = chart.ctx;
    ctx.save();
    ctx.fillStyle = '#000';
    ctx.fillRect(a.left - 3, a.top - 3, a.width + 1, a.height + 1);
    ctx.strokeStyle = '#222';
    ctx.lineWidth = 2;
    ctx.strokeRect(a.left - 3, a.top - 3, a.width + 5, a.height + 5);
    ctx.restore();
  },
  afterDraw(chart, args, opts) {
    const a = chart.chartArea, ctx = chart.ctx, xs = chart.scales.x, ys = chart.scales.y;
    ctx.save();
    ctx.strokeStyle = '#222';
    ctx.lineWidth = 1.5;
    ctx.beginPath();
    minorValues.forEach(v => {
      const px = xs.getPixelForValue(biexp(v)), py = ys.getPixelForValue(biexp(v));
      ctx.moveTo(px, a.bottom + 2); ctx.lineTo(px, a.bottom + 6);
      ctx.moveTo(a.left - 7, py); ctx.lineTo(a.left - 4, py);
    });
    ctx.stroke();

    ctx.fillStyle = '#222';
    ctx.font = '21.5px "Liberation Sans"';
    ctx.textAlign = 'center';
    ctx.textBaseline = 'middle';
    ctx.fillText('Intensity_MC_Ch02', a.left + a.width / 2 - 10, a.bottom + 59);
    ctx.save();
    ctx.translate(a.left - 82, a.top + a.height / 2 + 8);
    ctx.rotate(-Math.PI / 2);
    ctx.fillText('Intensity_MC_Ch05', 0, 0);
    ctx.restore();

    const left = xs.getPixelForValue(biexp(gateX[0])) + 5, right = xs.getPixelForValue(biexp(gateX[2])) - 3;
    ctx.font = '23px "Liberation Sans"';
    ctx.textAlign = 'left';
    ctx.fillStyle = pink; ctx.fillText(opts.pct[0], left, a.top + 16);
    ctx.fillStyle = green; ctx.fillText(opts.pct[2], left, a.bottom - 28);
    ctx.textAlign = 'right';
    ctx.fillStyle = yellow; ctx.fillText(opts.pct[1], right, a.top + 16);
    ctx.fillStyle = blue; ctx.fillText(opts.pct[3], right, a.bottom - 28);
    ctx.restore();
  }
};

function axisOptions(isX) {
  return {
    type: 'linear', min: 0, max: 1,
    afterBuildTicks: s => { s.ticks = tickValues.map(v => ({ value: biexp(v) })); },
    afterFit: s => { if (isX) s.height = 75; else s.width = 100; },
    ticks: {
      autoSkip: false, maxRotation: 0, padding: isX ? 6 : 4, color: '#222',
      font: { family: '"Liberation Sans"', size: 20 },
      callback: (v, i) => tickLabels[i]
    },
    grid: { drawOnChartArea: false, drawTicks: true, tickLength: 10, tickColor: '#222', tickWidth: 1.5 },
    border: { display: false }
  };
}

const page = document.getElementById('page');
const marginR = 40, marginT = 14, marginL = 100, marginB = 75;

panelBoxes.forEach((box, i) => {
  const [x0, x1, y0, y1] = box;
  const [pinkPts, pinkCore, yellowPts, bluePts, blueCore, greenPts, greenCore, greenBand, pct] = panelSeries[i];
  const canvas = document.createElement('canvas');
  canvas.width = x1 - x0 + marginL + marginR;
  canvas.height = y1 - y0 + marginT + marginB;
  canvas.style.left = (x0 - marginL) + 'px';
  canvas.style.top = (y0 - marginT) + 'px';
  page.appendChild(canvas);

  new Chart(canvas.getContext('2d'), {
    type: 'scatter',
    data: {
      datasets: [
        gate(gateX[0], gateX[1], gateY[0], gateY[1], '#3cdc00', 1),
        gate(gateX[1], gateX[2], gateY[1], gateY[2], yellow, 2),
        gate(gateX[0], gateX[1], gateY[1], gateY[2], pink, 3),
        gate(gateX[1], gateX[2], gateY[0], gateY[1], '#70c8f0', 4),
        cloud(greenCore, green, 6, 5),
        cloud(greenBand, green, 3, 6),
        cloud(greenPts, green, 1.8, 7),
        cloud(blueCore, '#a0e8f8', 3, 8),
        cloud(bluePts, blue, 1.6, 9),
        cloud(yellowPts, yellow, 1.6, 10),
        cloud(pinkCore, pink, 4, 11),
        cloud(pinkPts, pink, 1.6, 12)
      ]
    },
    options: {
      responsive: false, animation: false, events: [],
      layout: { padding: { top: marginT, right: marginR, left: 0, bottom: 0 } },
      scales: { x: axisOptions(true), y: axisOptions(false) },
      plugins: { legend: { display: false }, tooltip: { enabled: false }, facs: { pct: pct } }
    },
    plugins: [facsPlugin]
  });
});

// panel headings, section letters, big axis labels and arrows
const svgNS = 'http://www.w3.org/2000/svg';
const svg = document.createElementNS(svgNS, 'svg');
svg.setAttribute('width', 1689);
svg.setAttribute('height', 2525);
page.appendChild(svg);

function addText(text, x, y, size, bold, anchor, rotate) {
  const t = document.createElementNS(svgNS, 'text');
  t.setAttribute('x', x);
  t.setAttribute('y', y);
  t.setAttribute('font-family', '"Liberation Serif"');
  t.setAttribute('font-size', size);
  t.setAttribute('fill', '#111');
  if (bold) t.setAttribute('font-weight', 'bold');
  if (anchor) t.setAttribute('text-anchor', anchor);
  if (rotate) t.setAttribute('transform', 'rotate(-90 ' + x + ' ' + y + ')');
  t.textContent = text;
  svg.appendChild(t);
  return t;
}

panelTitles.forEach(p => {
  const t = addText('R', p[2], p[3], 40, false);
  const sub = document.createElementNS(svgNS, 'tspan');
  sub.setAttribute('font-size', 28);
  sub.setAttribute('dy', 9);
  sub.textContent = p[0];
  t.appendChild(sub);
  addText(p[1], p[4], p[5], 54, true);
});

addText('(A)', 122, 67, 54, true);
addText('(B)', 123, 1340, 54, true);

const sectionRows = [[603, 1236, 1164, 22, 84, 2, 1222], [1873, 2505, 2434, 27, 84, 1278, 2492]];
sectionRows.forEach(r => {
  addText('(PI) Red fluorescence', 47, r[0], 57, true, 'middle', true);
  const g = addText('(Annexin V-FITC) Green fluorescence', 853, r[1], 56, true, 'middle');
  g.setAttribute('word-spacing', 3);

  const h = document.createElementNS(svgNS, 'polygon');
  h.setAttribute('points', [r[3], r[2] - 9, 1655, r[2] - 9, 1652, r[2] - 20, 1686, r[2], 1652, r[2] + 20, 1655, r[2] + 9, r[3], r[2] + 9].join(','));
  h.setAttribute('fill', '#111');
  svg.appendChild(h);

  const v = document.createElementNS(svgNS, 'polygon');
  v.setAttribute('points', [r[4] - 10, r[6], r[4] - 10, r[5] + 30, r[4] - 20, r[5] + 32, r[4], r[5], r[4] + 20, r[5] + 32, r[4] + 10, r[5] + 30, r[4] + 10, r[6]].join(','));
  v.setAttribute('fill', '#111');
  svg.appendChild(v);
});
</script>
</body>
</html>
